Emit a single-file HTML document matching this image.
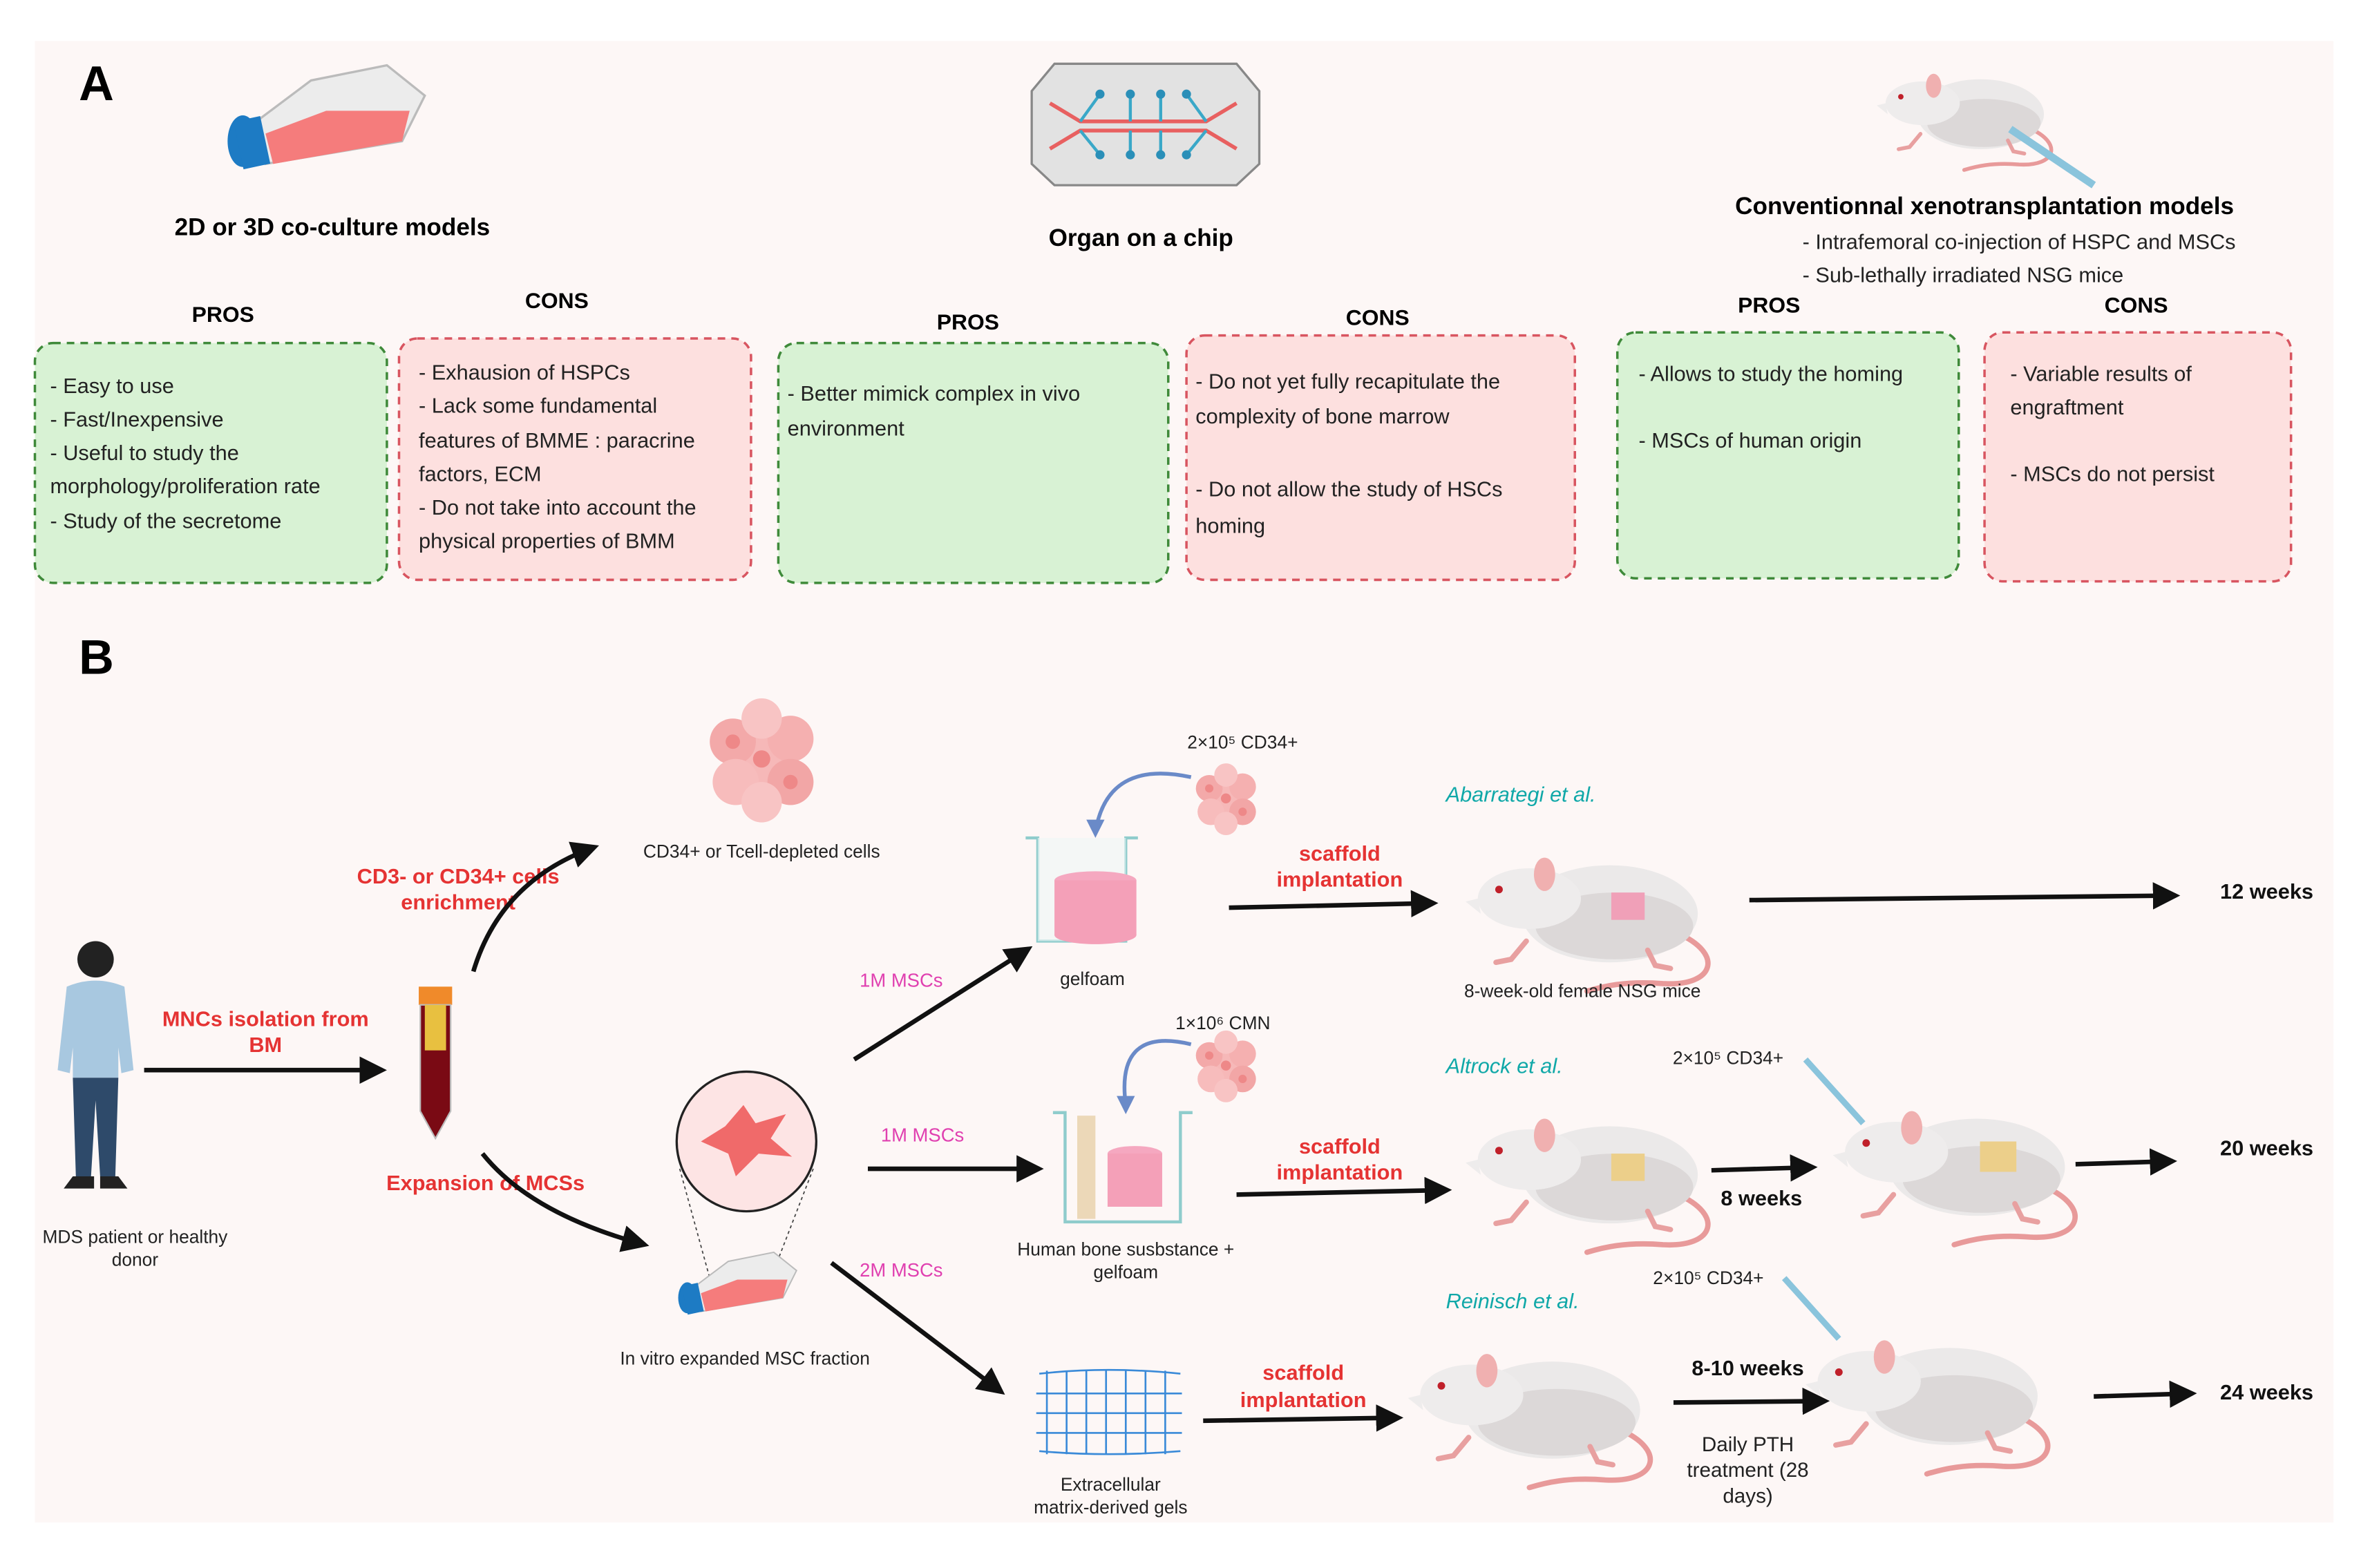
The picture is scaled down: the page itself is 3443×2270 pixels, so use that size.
<!DOCTYPE html>
<html><head><meta charset="utf-8">
<style>
html,body{margin:0;padding:0;background:#fff;}
svg{display:block;}
text{font-family:"Liberation Sans",Arial,sans-serif;}
</style></head>
<body>
<svg width="3443" height="2270" viewBox="0 0 1568 1033" preserveAspectRatio="none" xmlns="http://www.w3.org/2000/svg">
<defs>
<marker id="ah" markerWidth="6" markerHeight="6" refX="5" refY="3" orient="auto" markerUnits="strokeWidth">
<path d="M0,0 L6,3 L0,6 z" fill="#111"/>
</marker>
<g id="mouse">
 <path d="M140,55 C170,68 165,90 130,88 C105,86 90,90 80,93" fill="none" stroke="#e89a9a" stroke-width="3.5" stroke-linecap="round"/>
 <ellipse cx="95" cy="42" rx="58" ry="32" fill="#ebe9e9"/>
 <ellipse cx="98" cy="50" rx="52" ry="22" fill="#dcd8d8"/>
 <ellipse cx="42" cy="32" rx="34" ry="20" fill="#eeecec"/>
 <path d="M8,32 L0,34 L10,42 z" fill="#eeecec"/>
 <ellipse cx="52" cy="16" rx="7" ry="11" fill="#f0b0b0"/>
 <circle cx="22" cy="26" r="2.5" fill="#c0202a"/>
 <path d="M40,60 l-10,12 l-10,2 M120,66 l5,10 l10,2" stroke="#e8a0a0" stroke-width="3.5" fill="none" stroke-linecap="round"/>
</g>
<g id="cells">
 <circle cx="0" cy="0" r="9" fill="#f6b8b8"/><circle cx="-10" cy="-6" r="8" fill="#f3a9a9"/><circle cx="10" cy="-7" r="8" fill="#f5b0b0"/>
 <circle cx="-9" cy="8" r="8" fill="#f7bcbc"/><circle cx="10" cy="8" r="8" fill="#f2a6a6"/><circle cx="0" cy="-14" r="7" fill="#f8c4c4"/><circle cx="0" cy="15" r="7" fill="#f8c4c4"/>
 <circle cx="0" cy="0" r="3" fill="#e88"/><circle cx="-10" cy="-6" r="2.5" fill="#e88"/><circle cx="10" cy="8" r="2.5" fill="#e88"/>
</g>
<g id="flask">
 <polygon points="20,45 60,15 110,5 135,25 120,55 30,70" fill="#ececec" stroke="#bbb" stroke-width="1.5"/>
 <polygon points="30,50 70,35 125,35 120,55 35,70" fill="#f57c7c"/>
 <ellipse cx="15" cy="55" rx="10" ry="17" fill="#1d7bc4"/>
 <rect x="12" y="40" width="18" height="32" fill="#1d7bc4" transform="rotate(-12 21 56)"/>
</g>
</defs>

<rect x="0" y="0" width="1568" height="1033" fill="#fff"/>
<rect x="23" y="27" width="1515" height="976" fill="#fdf7f6"/>

<text x="52" y="66" font-size="32" font-weight="bold" fill="#000">A</text>
<text x="52" y="444" font-size="32" font-weight="bold" fill="#000">B</text>

<use href="#flask" x="145" y="38"/>
<text x="219" y="155" font-size="16" font-weight="bold" text-anchor="middle">2D or 3D co-culture models</text>

<polygon points="695,42 815,42 830,60 830,108 815,122 695,122 680,108 680,60" fill="#e2e2e2" stroke="#888" stroke-width="1.5"/>
<path d="M692,68 L712,80 L795,80 L815,68 M692,98 L712,86 L795,86 L815,98" stroke="#e86060" stroke-width="2.5" fill="none"/>
<path d="M712,80 L725,62 M745,80 L745,62 M765,80 L765,62 M795,80 L782,62 M712,86 L725,102 M745,86 L745,102 M765,86 L765,102 M795,86 L782,102" stroke="#3aa8c8" stroke-width="2" fill="none"/>
<g fill="#2a8fb8"><circle cx="725" cy="62" r="3"/><circle cx="745" cy="62" r="3"/><circle cx="765" cy="62" r="3"/><circle cx="782" cy="62" r="3"/><circle cx="725" cy="102" r="3"/><circle cx="745" cy="102" r="3"/><circle cx="765" cy="102" r="3"/><circle cx="782" cy="102" r="3"/></g>
<text x="752" y="162" font-size="16" font-weight="bold" text-anchor="middle">Organ on a chip</text>

<use href="#mouse" transform="translate(1237,45) scale(0.72)"/>
<line x1="1325" y1="85" x2="1380" y2="122" stroke="#8ac4dc" stroke-width="5"/>
<text x="1308" y="141" font-size="16" font-weight="bold" text-anchor="middle">Conventionnal xenotransplantation models</text>
<text x="1188" y="164" font-size="14" fill="#222">- Intrafemoral co-injection of HSPC and MSCs</text>
<text x="1188" y="186" font-size="14" fill="#222">- Sub-lethally irradiated NSG mice</text>

<g font-size="14.5" font-weight="bold" text-anchor="middle">
<text x="147" y="212">PROS</text><text x="367" y="203">CONS</text>
<text x="638" y="217">PROS</text><text x="908" y="214">CONS</text>
<text x="1166" y="206">PROS</text><text x="1408" y="206">CONS</text>
</g>

<g stroke-width="1.6" stroke-dasharray="5,4">
<rect x="23" y="226" width="232" height="158" rx="12" fill="#d8f2d4" stroke="#3f8a3a"/>
<rect x="263" y="223" width="232" height="159" rx="12" fill="#fde0df" stroke="#d85560"/>
<rect x="513" y="226" width="257" height="158" rx="12" fill="#d8f2d4" stroke="#3f8a3a"/>
<rect x="782" y="221" width="256" height="161" rx="12" fill="#fde0df" stroke="#d85560"/>
<rect x="1066" y="219" width="225" height="162" rx="12" fill="#d8f2d4" stroke="#3f8a3a"/>
<rect x="1308" y="219" width="202" height="164" rx="12" fill="#fde0df" stroke="#d85560"/>
</g>
<g font-size="14" fill="#222">
<text x="33" y="259">- Easy to use</text>
<text x="33" y="281">- Fast/Inexpensive</text>
<text x="33" y="303">- Useful to study the</text>
<text x="33" y="325">morphology/proliferation rate</text>
<text x="33" y="348">- Study of the secretome</text>

<text x="276" y="250">- Exhausion of HSPCs</text>
<text x="276" y="272">- Lack some fundamental</text>
<text x="276" y="295">features of BMME : paracrine</text>
<text x="276" y="317">factors, ECM</text>
<text x="276" y="339">- Do not take into account the</text>
<text x="276" y="361">physical properties of BMM</text>

<text x="519" y="264">- Better mimick complex in vivo</text>
<text x="519" y="287">environment</text>

<text x="788" y="256">- Do not yet fully recapitulate the</text>
<text x="788" y="279">complexity of  bone marrow</text>
<text x="788" y="327">- Do not allow the study of HSCs</text>
<text x="788" y="351">homing</text>

<text x="1080" y="251">- Allows to study the homing</text>
<text x="1080" y="295">- MSCs of human origin</text>

<text x="1325" y="251">- Variable results of</text>
<text x="1325" y="273">engraftment</text>
<text x="1325" y="317">- MSCs do not persist</text>
</g>

<circle cx="63" cy="632" r="12" fill="#222"/>
<path d="M44,650 Q63,642 82,650 L88,705 L80,707 L78,690 L78,710 L48,710 L48,690 L46,707 L38,705 z" fill="#a8c8e0"/>
<path d="M48,710 L78,710 L76,775 L66,775 L63,725 L60,775 L50,775 z" fill="#2e4a6a"/>
<path d="M48,775 l-6,8 h20 v-8 z M66,775 v8 h18 l-6,-8 z" fill="#222"/>
<text x="89" y="819" font-size="12" text-anchor="middle" fill="#222">MDS patient or healthy</text>
<text x="89" y="834" font-size="12" text-anchor="middle" fill="#222">donor</text>

<g fill="#e53333" font-size="14" font-weight="bold" text-anchor="middle">
<text x="175" y="676">MNCs isolation from</text><text x="175" y="693">BM</text>
<text x="302" y="582">CD3- or CD34+ cells</text><text x="302" y="599">enrichment</text>
<text x="320" y="784">Expansion of MCSs</text>
<text x="883" y="567">scaffold</text><text x="883" y="584">implantation</text>
<text x="883" y="760">scaffold</text><text x="883" y="777">implantation</text>
<text x="859" y="909">scaffold</text><text x="859" y="927">implantation</text>
</g>

<g stroke="#111" stroke-width="3" fill="none" marker-end="url(#ah)">
<line x1="95" y1="705" x2="252" y2="705"/>
<path d="M312,640 Q330,580 392,558"/>
<path d="M318,760 Q350,800 425,820"/>
<line x1="563" y1="698" x2="678" y2="625"/>
<line x1="572" y1="770" x2="685" y2="770"/>
<line x1="548" y1="832" x2="660" y2="917"/>
<line x1="810" y1="598" x2="945" y2="595"/>
<line x1="815" y1="787" x2="954" y2="784"/>
<line x1="793" y1="936" x2="922" y2="934"/>
<line x1="1153" y1="593" x2="1434" y2="590"/>
<line x1="1128" y1="771" x2="1195" y2="769"/>
<line x1="1368" y1="767" x2="1432" y2="765"/>
<line x1="1103" y1="924" x2="1203" y2="923"/>
<line x1="1380" y1="920" x2="1445" y2="918"/>
</g>

<rect x="276" y="650" width="22" height="12" fill="#f08a2a"/>
<path d="M277,662 h20 v70 l-10,18 l-10,-18 z" fill="#7a0a14" stroke="#bbb"/>
<rect x="280" y="662" width="14" height="30" fill="#e8c040"/>

<use href="#cells" transform="translate(502,500) scale(1.9)"/>
<text x="502" y="565" font-size="12" text-anchor="middle" fill="#222">CD34+ or Tcell-depleted cells</text>

<circle cx="492" cy="752" r="46" fill="#fde4e4" stroke="#222" stroke-width="1.5"/>
<path d="M462,752 L478,742 L490,728 L498,740 L518,734 L508,750 L522,762 L500,760 L485,775 L480,760 z" fill="#f06a6a"/>
<path d="M448,770 L470,850 M536,770 L505,850" stroke="#444" stroke-width="0.8" stroke-dasharray="2,2"/>
<use href="#flask" transform="translate(444,822) scale(0.6)"/>
<text x="491" y="899" font-size="12" text-anchor="middle" fill="#222">In vitro expanded MSC fraction</text>

<g fill="#e040b0" font-size="12.5" text-anchor="middle">
<text x="594" y="650">1M MSCs</text><text x="608" y="752">1M MSCs</text><text x="594" y="841">2M MSCs</text>
</g>

<path d="M676,552 h8 v68 h58 v-68 h8" fill="none" stroke="#8fcccc" stroke-width="2"/>
<rect x="684" y="552" width="58" height="68" fill="#eef7f7" opacity="0.6"/>
<ellipse cx="722" cy="580" rx="27" ry="6" fill="#f5a8c0"/>
<rect x="695" y="580" width="54" height="36" fill="#f4a0b8"/>
<ellipse cx="722" cy="616" rx="27" ry="6" fill="#f4a0b8"/>
<use href="#cells" transform="translate(808,526) scale(1.1)"/>
<path d="M785,512 Q730,500 722,548" stroke="#6a8ac8" stroke-width="2.5" fill="none"/>
<path d="M716,540 l6,12 l6,-12 z" fill="#6a8ac8"/>
<text x="819" y="493" font-size="12" text-anchor="middle" fill="#222">2×10⁵ CD34+</text>
<text x="720" y="649" font-size="12" text-anchor="middle" fill="#222">gelfoam</text>

<path d="M694,733 h8 v72 h76 v-72 h8" fill="none" stroke="#8fcccc" stroke-width="2"/>
<rect x="710" y="735" width="12" height="68" fill="#ecd8b8"/>
<ellipse cx="748" cy="760" rx="18" ry="5" fill="#f5a8c0"/>
<rect x="730" y="760" width="36" height="35" fill="#f4a0b8"/>
<use href="#cells" transform="translate(808,702) scale(1.1)"/>
<path d="M785,688 Q735,676 742,728" stroke="#6a8ac8" stroke-width="2.5" fill="none"/>
<path d="M736,722 l6,12 l6,-12 z" fill="#6a8ac8"/>
<text x="806" y="678" font-size="12" text-anchor="middle" fill="#222">1×10⁶ CMN</text>
<text x="742" y="827" font-size="12" text-anchor="middle" fill="#222">Human bone susbstance +</text>
<text x="742" y="842" font-size="12" text-anchor="middle" fill="#222">gelfoam</text>

<g stroke="#3a8ad8" stroke-width="1.2" fill="none">
<path d="M685,905 Q730,900 778,905 M683,918 h96 M683,931 h96 M683,944 h96 M685,956 Q730,960 778,956"/>
<path d="M690,903 v55 M703,903 v55 M716,903 v55 M729,903 v55 M742,903 v55 M755,903 v55 M768,903 v55"/>
</g>
<text x="732" y="982" font-size="12" text-anchor="middle" fill="#222">Extracellular</text>
<text x="732" y="997" font-size="12" text-anchor="middle" fill="#222">matrix-derived gels</text>

<g fill="#10a8a8" font-size="14" font-style="italic">
<text x="953" y="528">Abarrategi et al.</text>
<text x="953" y="707">Altrock et al.</text>
<text x="953" y="862">Reinisch et al.</text>
</g>

<use href="#mouse" x="966" y="560"/>
<rect x="1062" y="588" width="22" height="18" fill="#f0a0b8"/>
<text x="1043" y="657" font-size="12" text-anchor="middle" fill="#222">8-week-old female NSG mice</text>
<use href="#mouse" x="966" y="732"/>
<rect x="1062" y="760" width="22" height="18" fill="#eccf8a"/>
<use href="#mouse" x="1208" y="727"/>
<rect x="1305" y="752" width="24" height="20" fill="#eccf8a"/>
<use href="#mouse" x="928" y="887"/>
<use href="#mouse" x="1190" y="878"/>
<line x1="1190" y1="698" x2="1228" y2="740" stroke="#8ac4dc" stroke-width="4"/>
<line x1="1176" y1="842" x2="1212" y2="882" stroke="#8ac4dc" stroke-width="4"/>
<text x="1139" y="701" font-size="12" text-anchor="middle" fill="#222">2×10⁵ CD34+</text>
<text x="1126" y="846" font-size="12" text-anchor="middle" fill="#222">2×10⁵ CD34+</text>

<g font-size="14" font-weight="bold" fill="#111" text-anchor="middle">
<text x="1494" y="592">12 weeks</text>
<text x="1494" y="761">20 weeks</text>
<text x="1494" y="922">24 weeks</text>
<text x="1161" y="794">8 weeks</text>
<text x="1152" y="906">8-10 weeks</text>
</g>
<g font-size="13.5" fill="#222" text-anchor="middle">
<text x="1152" y="956">Daily PTH</text><text x="1152" y="973">treatment (28</text><text x="1152" y="990">days)</text>
</g>
</svg>
</body></html>
